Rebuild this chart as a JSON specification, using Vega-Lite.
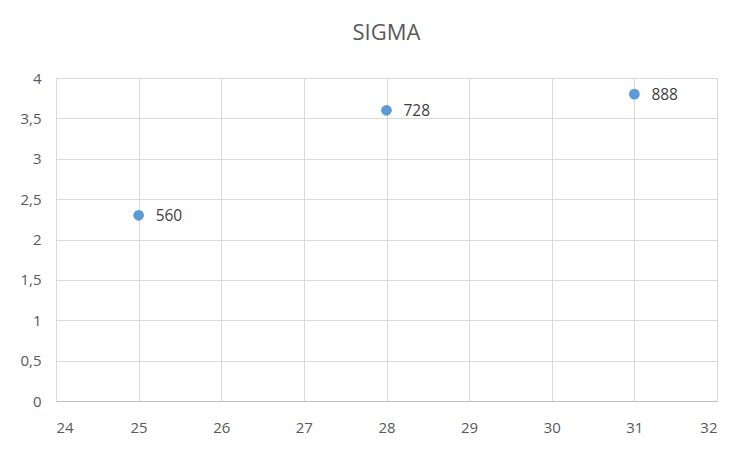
{
  "$schema": "https://vega.github.io/schema/vega-lite/v6.json",
  "autosize": "none",
  "width": 661,
  "height": 323,
  "padding": {"left": 56, "top": 78, "right": 35, "bottom": 51},
  "background": "white",
  "title": {
    "text": "SIGMA",
    "font": "Open Sans",
    "fontSize": 22,
    "fontWeight": "normal",
    "color": "#595959",
    "anchor": "middle",
    "offset": 26
  },
  "data": {
    "values": [
      {"x": 25, "y": 2.3, "label": "560"},
      {"x": 28, "y": 3.6, "label": "728"},
      {"x": 31, "y": 3.8, "label": "888"}
    ]
  },
  "config": {
    "view": {"stroke": null},
    "axis": {
      "labelFont": "Open Sans",
      "labelFontSize": 15,
      "labelColor": "#595959",
      "gridColor": "#d9d9d9",
      "gridWidth": 1,
      "ticks": false,
      "domain": false,
      "title": null
    }
  },
  "encoding": {
    "x": {
      "field": "x",
      "type": "quantitative",
      "scale": {"domain": [24, 32], "nice": false, "zero": false},
      "axis": {"values": [24, 25, 26, 27, 28, 29, 30, 31, 32], "labelPadding": 19, "domain": true, "domainColor": "#bfbfbf"}
    },
    "y": {
      "field": "y",
      "type": "quantitative",
      "scale": {"domain": [0, 4], "nice": false},
      "axis": {"values": [0, 0.5, 1, 1.5, 2, 2.5, 3, 3.5, 4], "labelPadding": 15, "labelExpr": "replace(format(datum.value, ''), '.', ',')"}
    }
  },
  "layer": [
    {
      "mark": {"type": "point", "filled": true, "size": 115, "color": "#5b9bd5", "opacity": 1}
    },
    {
      "mark": {"type": "text", "align": "left", "dx": 17, "dy": 1, "font": "Open Sans", "fontSize": 15.5, "color": "#404040"},
      "encoding": {"text": {"field": "label"}}
    }
  ]
}
